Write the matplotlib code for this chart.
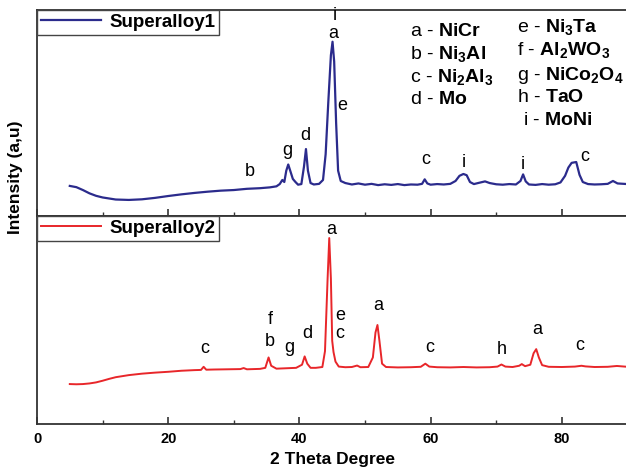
import numpy as np
import matplotlib
matplotlib.use("Agg")
import matplotlib.pyplot as plt
from matplotlib.ticker import MultipleLocator

plt.rcParams['font.family'] = ['Liberation Sans', 'DejaVu Sans']
plt.rcParams['mathtext.fontset'] = 'custom'
plt.rcParams['mathtext.rm'] = 'Liberation Sans'
plt.rcParams['mathtext.bf'] = 'Liberation Sans:bold'
plt.rcParams['mathtext.it'] = 'Liberation Sans:italic'

# Superalloy1 pattern (2theta, intensity a.u.)
x1 = [5, 6, 7, 8, 9, 10, 12, 14, 16, 18, 20, 22, 24, 26, 28, 30, 32, 34, 35.5, 36.5,
      37.0, 37.4, 37.7, 38.0, 38.3, 38.6, 39.0, 39.4, 39.8, 40.3, 40.7, 41.0, 41.3, 41.7,
      42.2, 43.0, 43.6, 44.0, 44.4, 44.8, 45.05, 45.3, 45.6, 45.9, 46.3, 47, 48, 49, 50,
      51, 52, 53, 54, 55, 56, 57, 58, 58.7, 59.1, 59.5, 60, 61, 62, 63, 63.8, 64.4, 65.0,
      65.5, 66, 66.6, 67.5, 68.3, 69, 70, 71, 72, 73, 73.7, 74.1, 74.5, 75, 76, 77, 78,
      79, 79.8, 80.5, 81.0, 81.5, 82.2, 82.7, 83.2, 84, 85, 86, 87, 87.8, 88.5, 90]
y1 = [14.6, 14.0, 12.6, 11.0, 9.8, 9.0, 8.0, 7.8, 8.1, 8.8, 9.7, 10.5, 11.2, 11.8, 12.3,
      12.6, 13.2, 13.5, 13.9, 14.4, 15.5, 17.5, 16.5, 22.0, 25.0, 22.0, 18.0, 16.5, 15.2,
      15.5, 24.0, 32.5, 22.0, 16.0, 15.3, 15.6, 17.5, 30.0, 55.0, 78.0, 84.6, 75.0, 45.0,
      22.0, 17.0, 16.0, 15.3, 15.8, 15.2, 15.6, 15.0, 15.4, 15.1, 15.5, 15.0, 15.3, 15.2,
      15.6, 17.8, 15.8, 15.2, 15.5, 15.3, 15.6, 17.0, 19.5, 20.4, 19.8, 16.5, 15.5, 16.2,
      16.8, 16.0, 15.4, 15.2, 15.5, 15.3, 17.0, 20.2, 16.8, 15.3, 15.1, 15.5, 15.2, 15.4,
      16.3, 19.5, 23.5, 25.8, 26.2, 20.0, 16.5, 15.5, 15.3, 15.4, 15.6, 17.0, 15.8, 15.5]

# Superalloy2 pattern
x2 = [5, 6, 7, 8, 9, 10, 11, 12, 14, 16, 18, 20, 22, 24, 25.0, 25.4, 25.8, 27, 29, 31,
      31.5, 32, 34, 34.8, 35.3, 35.7, 36.5, 38, 39.5, 40.4, 40.8, 41.2, 41.7, 42.5, 43.5,
      43.9, 44.3, 44.55, 44.8, 45.0, 45.2, 45.5, 46, 47, 48, 48.8, 49.3, 50.5, 51.2, 51.6,
      51.9, 52.2, 52.6, 53.2, 55, 57, 58.5, 59.2, 59.8, 61, 63, 65, 67, 69, 70.2, 70.8,
      71.4, 72.5, 73.5, 73.9, 74.4, 75.2, 75.7, 76.1, 76.5, 77, 78, 80, 82, 83.0, 83.6,
      85, 87, 88.4, 90]
y2 = [19.2, 19.1, 19.2, 19.5, 20.0, 20.8, 21.7, 22.5, 23.5, 24.2, 24.7, 25.1, 25.6, 25.9,
      26.0, 27.5, 26.1, 26.2, 26.3, 26.4, 26.9, 26.3, 26.5, 27.0, 32.0, 28.0, 26.6, 26.8,
      27.0, 28.5, 32.5, 29.0, 27.0, 27.0, 27.4, 35.0, 70.0, 89.4, 70.0, 40.0, 34.6, 30.0,
      27.6, 27.3, 27.4, 28.1, 27.3, 27.4, 32.0, 44.0, 47.6, 40.0, 29.0, 27.4, 27.2, 27.3,
      27.5, 29.0, 27.6, 27.3, 27.2, 27.4, 27.2, 27.3, 27.6, 28.6, 27.6, 27.4, 28.0, 28.8,
      27.8, 28.5, 34.0, 36.0, 32.0, 28.3, 27.5, 27.4, 27.6, 28.0, 27.7, 27.4, 27.5, 27.9,
      27.5]

# peak labels
lab1 = ['b', 'g', 'd', 'i', 'a', 'e', 'c', 'i', 'i', 'c']
lab1_x = [32.5, 38.1, 40.9, 45.4, 45.1, 46.6, 59.3, 65.1, 74.1, 83.5]
lab1_y = [21.4, 31.6, 39.3, 97.5, 88.8, 53.4, 27.2, 26.2, 24.8, 29.1]

lab2 = ['c', 'f', 'b', 'g', 'd', 'a', 'e', 'c', 'a', 'c', 'h', 'a', 'c']
lab2_x = [25.6, 35.5, 35.5, 38.4, 41.2, 44.8, 46.3, 46.2, 52.0, 59.8, 70.9, 76.2, 82.8]
lab2_y = [36.5, 50.0, 39.9, 37.0, 43.3, 93.3, 52.4, 43.3, 57.2, 37.0, 35.6, 45.2, 37.5]

# phase key
key_left = [('a', r'$\mathbf{NiCr}$'), ('b', r'$\mathbf{Ni_3Al}$'),
            ('c', r'$\mathbf{Ni_2Al_3}$'), ('d', r'$\mathbf{Mo}$')]
key_right = [('e', r'$\mathbf{Ni_3Ta}$'), ('f', r'$\mathbf{Al_2WO_3}$'),
             ('g', r'$\mathbf{NiCo_2O_4}$'), ('h', r'$\mathbf{TaO}$'),
             ('i', r'$\mathbf{MoNi}$')]

fig = plt.figure(figsize=(6.26, 4.70), dpi=100)
W = 590.4 / 626
ax1 = fig.add_axes([37 / 626, 254 / 470, W, 206 / 470])
ax2 = fig.add_axes([37 / 626, 46 / 470, W, 208 / 470])

ax1.plot(x1, y1, color='#2b2b8c', lw=1.6, label='Superalloy1')
ax2.plot(x2, y2, color='#e8262a', lw=1.4, label='Superalloy2')

for ax in (ax1, ax2):
    ax.set_xlim(0, 90)
    ax.set_ylim(0, 100)
    ax.set_yticks([])
    ax.xaxis.set_major_locator(MultipleLocator(20))
    ax.xaxis.set_minor_locator(MultipleLocator(10))
    ax.tick_params(axis='x', which='major', direction='in', length=5, width=1.2,
                   color='#333333')
    ax.tick_params(axis='x', which='minor', direction='in', length=3, width=1.0,
                   color='#333333')
    for s in ax.spines.values():
        s.set_color('#333333')
        s.set_linewidth(1.3)
    leg = ax.legend(loc='upper left', bbox_to_anchor=(0, 1), borderaxespad=0,
                    fancybox=False, framealpha=1, edgecolor='#444444',
                    handlelength=3.2, handletextpad=0.45, borderpad=0.2,
                    prop={'weight': 'bold', 'size': 13.5})
    leg.get_frame().set_linewidth(1.0)

ax1.tick_params(axis='x', labelbottom=False)
ax2.tick_params(axis='x', labelsize=10.5, pad=6)
for t in ax2.get_xticklabels():
    t.set_fontweight('bold')
ax2.set_xlabel('2 Theta Degree', fontsize=12.5, fontweight='bold', labelpad=4)

for s, x, y in zip(lab1, lab1_x, lab1_y):
    ax1.text(x, y, s, ha='center', va='center', fontsize=13)
for s, x, y in zip(lab2, lab2_x, lab2_y):
    ax2.text(x, y, s, ha='center', va='center', fontsize=13)

left_y = [0.874, 0.762, 0.650, 0.544]
right_y = [0.893, 0.782, 0.660, 0.553, 0.442]
for (k, name), y in zip(key_left, left_y):
    ax1.text(0.632, y, k + ' - ' + name, transform=ax1.transAxes,
             ha='left', va='baseline', fontsize=14)
for (k, name), y in zip(key_right, right_y):
    xx = 0.823 if k == 'i' else 0.813
    ax1.text(xx, y, k + ' - ' + name, transform=ax1.transAxes,
             ha='left', va='baseline', fontsize=14)

fig.text(0.024, 0.623, 'Intensity (a,u)', rotation=90, ha='center', va='center',
         fontsize=12.5, fontweight='bold')

fig.savefig('out.png', dpi=100)
